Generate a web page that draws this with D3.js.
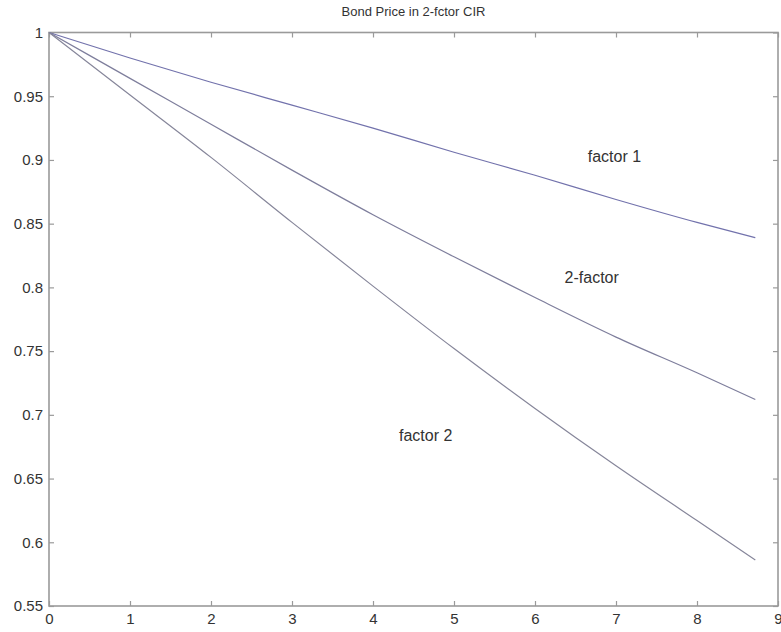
<!DOCTYPE html>
<html><head><meta charset="utf-8">
<script src="https://cdn.jsdelivr.net/npm/d3@7"></script>
<style>body{margin:0;background:#fff}svg{display:block}text{font-family:"Liberation Sans",Arial,sans-serif}</style>
</head><body>
<svg id="c" width="781" height="632"></svg>
<script>
const maturity = [0, 1, 2, 3, 4, 5, 6, 7, 8, 8.72];
const factor1  = [1, 0.980, 0.961, 0.943, 0.925, 0.906, 0.888, 0.869, 0.851, 0.839];
const twoFactor= [1, 0.964, 0.928, 0.892, 0.857, 0.824, 0.792, 0.761, 0.733, 0.712];
const factor2  = [1, 0.951, 0.902, 0.851, 0.801, 0.752, 0.705, 0.660, 0.617, 0.586];
const xTicks = [0,1,2,3,4,5,6,7,8,9];
const yTicks = [0.55,0.6,0.65,0.7,0.75,0.8,0.85,0.9,0.95,1];
const title = "Bond Price in 2-fctor CIR";
const labels = [
  {text:"factor 1", x:6.98, y:0.902},
  {text:"2-factor", x:6.70, y:0.807},
  {text:"factor 2", x:4.65, y:0.683}
];

const svg = d3.select("#c");
const L=49, R=778, T=32.5, B=606;
const x = d3.scaleLinear().domain([0,9]).range([L,R]);
const y = d3.scaleLinear().domain([0.55,1]).range([B,T]);
const axisCol="#9a9a9a", txtCol="#333";

svg.append("rect").attr("x",L).attr("y",T).attr("width",R-L).attr("height",B-T)
 .attr("fill","none").attr("stroke",axisCol).attr("stroke-width",1.6);

const tl=5;
const gx = svg.append("g").attr("transform",`translate(0,${B})`)
  .call(d3.axisBottom(x).tickValues(xTicks).tickSize(-tl).tickFormat(d3.format("d")));
gx.select(".domain").remove();
gx.selectAll("line").attr("stroke",axisCol).attr("stroke-width",1.2);
gx.selectAll("text").attr("fill",txtCol).attr("font-size",15).attr("dy","0.95em").attr("y",4);
const gxt = svg.append("g").attr("transform",`translate(0,${T})`)
  .call(d3.axisTop(x).tickValues(xTicks).tickSize(-tl).tickFormat(""));
gxt.select(".domain").remove();
gxt.selectAll("line").attr("stroke",axisCol).attr("stroke-width",1.2);

const gy = svg.append("g").attr("transform",`translate(${L},0)`)
  .call(d3.axisLeft(y).tickValues(yTicks).tickSize(-tl).tickFormat(d=>String(+d.toFixed(2))));
gy.select(".domain").remove();
gy.selectAll("line").attr("stroke",axisCol).attr("stroke-width",1.2);
gy.selectAll("text").attr("fill",txtCol).attr("font-size",15).attr("x",-6);
const gyr = svg.append("g").attr("transform",`translate(${R},0)`)
  .call(d3.axisRight(y).tickValues(yTicks).tickSize(-tl).tickFormat(""));
gyr.select(".domain").remove();
gyr.selectAll("line").attr("stroke",axisCol).attr("stroke-width",1.2);

const line = d3.line().x((d,i)=>x(maturity[i])).y(d=>y(d)).curve(d3.curveMonotoneX);
const series=[{v:factor1,c:"#7272ac"},{v:twoFactor,c:"#7e7e9c"},{v:factor2,c:"#86869a"}];
series.forEach(s=>{
  svg.append("path").attr("d",line(s.v)).attr("fill","none").attr("stroke",s.c).attr("stroke-width",1.2);
});

labels.forEach(l=>{
  svg.append("text").attr("x",x(l.x)).attr("y",y(l.y)).attr("text-anchor","middle")
    .attr("dominant-baseline","middle").attr("font-size",16).attr("fill",txtCol).text(l.text);
});

svg.append("text").attr("x",(L+R)/2).attr("y",16).attr("text-anchor","middle")
  .attr("font-size",13).attr("fill",txtCol).text(title);
</script>
</body></html>
